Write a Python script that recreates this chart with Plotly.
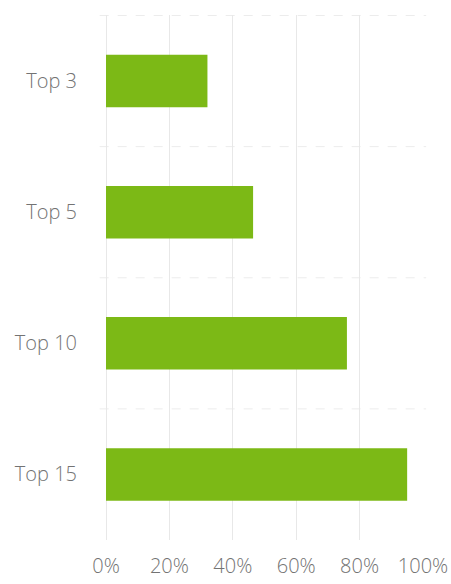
import plotly.graph_objects as go

categories = ["Top 3", "Top 5", "Top 10", "Top 15"]
values = [32, 46.4, 76, 95]
tick_vals = [0, 20, 40, 60, 80, 100]
tick_text = ["0%", "20%", "40%", "60%", "80%", "100%"]

fig = go.Figure()
fig.add_trace(go.Bar(
    y=categories, x=values, orientation="h",
    marker=dict(color="#7cb916", line=dict(width=0)),
    hoverinfo="skip",
))

# faint dashed separators between category bands
for b in [-0.5, 0.5, 1.5, 2.5]:
    fig.add_shape(type="line", xref="paper", x0=-0.02, x1=1.01, yref="y", y0=b, y1=b,
                  line=dict(color="#ececec", width=1, dash="dash"), layer="below")

fig.update_layout(
    width=451, height=584,
    margin=dict(l=106, r=28, t=15, b=44),
    paper_bgcolor="white", plot_bgcolor="white",
    bargap=0.6,
    showlegend=False,
    font=dict(family="Open Sans", size=20, color="#737373", weight=300),
    xaxis=dict(range=[0, 100], tickvals=tick_vals, ticktext=tick_text,
               showgrid=True, gridcolor="#e8e8e8", gridwidth=1,
               zeroline=True, zerolinecolor="#e8e8e8", zerolinewidth=1,
               showline=False, ticks="", ticklabelstandoff=12, automargin=False,
               ticklabeloverflow="allow", fixedrange=True),
    yaxis=dict(categoryorder="array", categoryarray=categories, autorange="reversed",
               showgrid=False, zeroline=False, showline=False, ticks="",
               ticklabelstandoff=28, automargin=False, fixedrange=True),
)

fig.write_html(
    "out.html",
    config={"displayModeBar": False},
    post_script="document.body.style.margin='0';document.body.style.overflow='hidden';",
)
